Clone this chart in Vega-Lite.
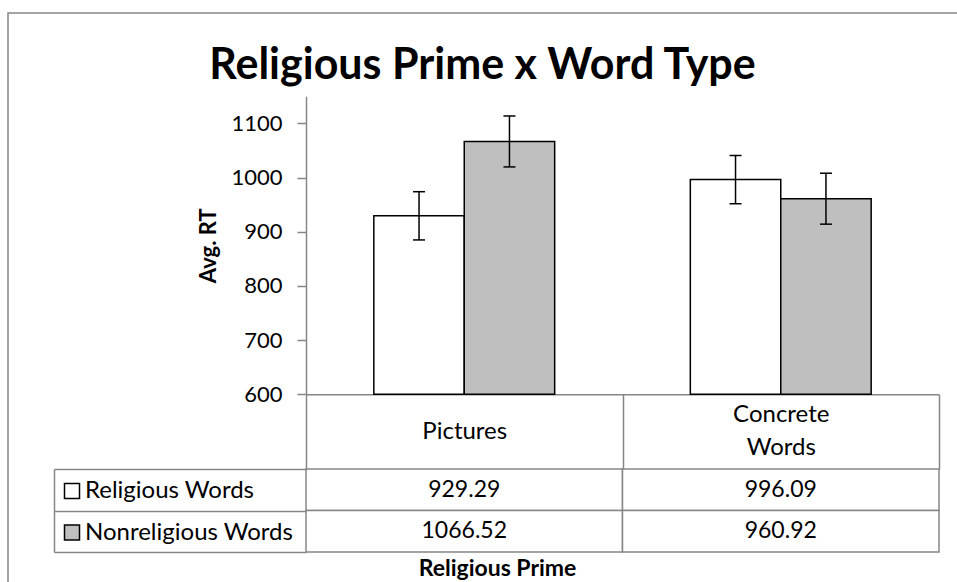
{
  "$schema": "https://vega.github.io/schema/vega-lite/v6.json",
  "width": 949,
  "height": 569,
  "autosize": {"type": "none"},
  "padding": {"left": 8, "top": 13, "right": 0, "bottom": 0},
  "background": "white",
  "config": {
    "font": "Lato",
    "view": {"stroke": "#868686", "strokeWidth": 1.5, "strokeDash": [949, 1518]}
  },
  "title": {
    "text": "Religious Prime x Word Type",
    "font": "Lato",
    "fontSize": 43,
    "fontWeight": "bold",
    "color": "black",
    "anchor": "middle",
    "frame": "group",
    "baseline": "alphabetic",
    "offset": -65,
    "dy": 44
  },
  "data": {
    "values": [
      {"prime": "Pictures", "words": "Religious Words", "rt": 929.29, "lo": 884.8, "hi": 973.8},
      {"prime": "Pictures", "words": "Nonreligious Words", "rt": 1066.52, "lo": 1019.5, "hi": 1113.5},
      {"prime": "Concrete Words", "words": "Religious Words", "rt": 996.09, "lo": 951.6, "hi": 1040.6},
      {"prime": "Concrete Words", "words": "Nonreligious Words", "rt": 960.92, "lo": 913.9, "hi": 1007.9}
    ]
  },
  "layer": [
    {
      "encoding": {
        "x": {
          "field": "prime",
          "type": "nominal",
          "sort": ["Pictures", "Concrete Words"],
          "scale": {"domain": ["Pictures", "Concrete Words"], "range": [298, 931], "paddingInner": 0, "paddingOuter": 0},
          "axis": {
            "orient": "bottom",
            "offset": -187.7,
            "labelAngle": 0,
            "labelFont": "Lato",
            "labelFontSize": 24,
            "labelColor": "black",
            "labelPadding": {"condition": {"test": "datum.value == 'Concrete Words'", "value": -54.5}, "value": -37.6},
            "labelBaseline": "middle",
            "labelLineHeight": 33,
            "labelLimit": 0,
            "labelExpr": "datum.value == 'Concrete Words' ? ['Concrete', 'Words'] : datum.value",
            "tickBand": "extent",
            "tickSize": 75,
            "tickColor": "#868686",
            "tickWidth": 1.5,
            "domainColor": "#868686",
            "domainWidth": 1.5,
            "title": "Religious Prime",
            "titleFont": "Lato",
            "titleFontSize": 23,
            "titleFontWeight": "bold",
            "titleColor": "black",
            "titleX": 489,
            "titleY": 181,
            "titleBaseline": "alphabetic"
          }
        },
        "xOffset": {
          "field": "words",
          "type": "nominal",
          "sort": ["Religious Words", "Nonreligious Words"],
          "scale": {"domain": ["Religious Words", "Nonreligious Words"], "paddingInner": 0, "paddingOuter": 0.75}
        }
      },
      "layer": [
        {
          "mark": {"type": "bar", "stroke": "black", "strokeWidth": 1.5},
          "encoding": {
            "y": {
              "field": "rt",
              "type": "quantitative",
              "scale": {"domain": [600, 1150], "range": [381.3, 83.2], "zero": false, "nice": false},
              "axis": {
                "orient": "left",
                "offset": -298,
                "values": [600, 700, 800, 900, 1000, 1100],
                "format": "d",
                "grid": false,
                "tickSize": 9,
                "tickColor": "#868686",
                "tickWidth": 1.5,
                "domainColor": "#868686",
                "domainWidth": 1.5,
                "labelFont": "Lato",
                "labelFontSize": 22,
                "labelColor": "black",
                "labelPadding": 15,
                "title": "Avg. RT",
                "titleFont": "Lato",
                "titleFontSize": 22,
                "titleFontWeight": "bold",
                "titleColor": "black",
                "titlePadding": 10
              }
            },
            "y2": {"datum": 600},
            "fill": {
              "field": "words",
              "type": "nominal",
              "sort": ["Religious Words", "Nonreligious Words"],
              "scale": {"domain": ["Religious Words", "Nonreligious Words"], "range": ["#FFFFFF", "#BFBFBF"]},
              "legend": {
                "orient": "none",
                "legendX": 52,
                "legendY": 466,
                "title": null,
                "padding": 0,
                "symbolType": "square",
                "symbolSize": 225,
                "symbolStrokeColor": "black",
                "symbolStrokeWidth": 1.5,
                "labelFont": "Lato",
                "labelFontSize": 24,
                "labelColor": "black",
                "labelOffset": 1,
                "labelLimit": 0,
                "rowPadding": 17.5
              }
            }
          }
        },
        {
          "mark": {"type": "rule", "stroke": "black", "strokeWidth": 1.5},
          "encoding": {
            "y": {"field": "lo", "type": "quantitative"},
            "y2": {"field": "hi"}
          }
        },
        {
          "mark": {"type": "tick", "color": "black", "thickness": 1.5, "size": 12, "opacity": 1},
          "encoding": {"y": {"field": "lo", "type": "quantitative"}}
        },
        {
          "mark": {"type": "tick", "color": "black", "thickness": 1.5, "size": 12, "opacity": 1},
          "encoding": {"y": {"field": "hi", "type": "quantitative"}}
        }
      ]
    },
    {
      "encoding": {
        "x": {
          "field": "prime",
          "type": "nominal",
          "sort": ["Pictures", "Concrete Words"],
          "scale": {"domain": ["Pictures", "Concrete Words"], "range": [298, 931], "paddingInner": 0, "paddingOuter": 0}
        },
        "y": {
          "field": "words",
          "type": "nominal",
          "sort": ["Religious Words", "Nonreligious Words"],
          "scale": {"domain": ["Religious Words", "Nonreligious Words"], "range": [456, 539], "paddingInner": 0, "paddingOuter": 0},
          "axis": {
            "orient": "left",
            "offset": -46,
            "tickBand": "extent",
            "tickSize": -252,
            "tickColor": "#868686",
            "tickWidth": 1.5,
            "domainColor": "#868686",
            "domainWidth": 1.5,
            "labels": false,
            "title": null,
            "grid": false
          }
        }
      },
      "layer": [
        {
          "mark": {"type": "rect", "fill": "white", "stroke": "#868686", "strokeWidth": 1.5}
        },
        {
          "mark": {"type": "text", "font": "Lato", "fontSize": 23, "color": "black"},
          "encoding": {"text": {"field": "rt", "type": "quantitative", "format": ".2f"}}
        }
      ]
    }
  ],
  "resolve": {"scale": {"y": "independent"}}
}
